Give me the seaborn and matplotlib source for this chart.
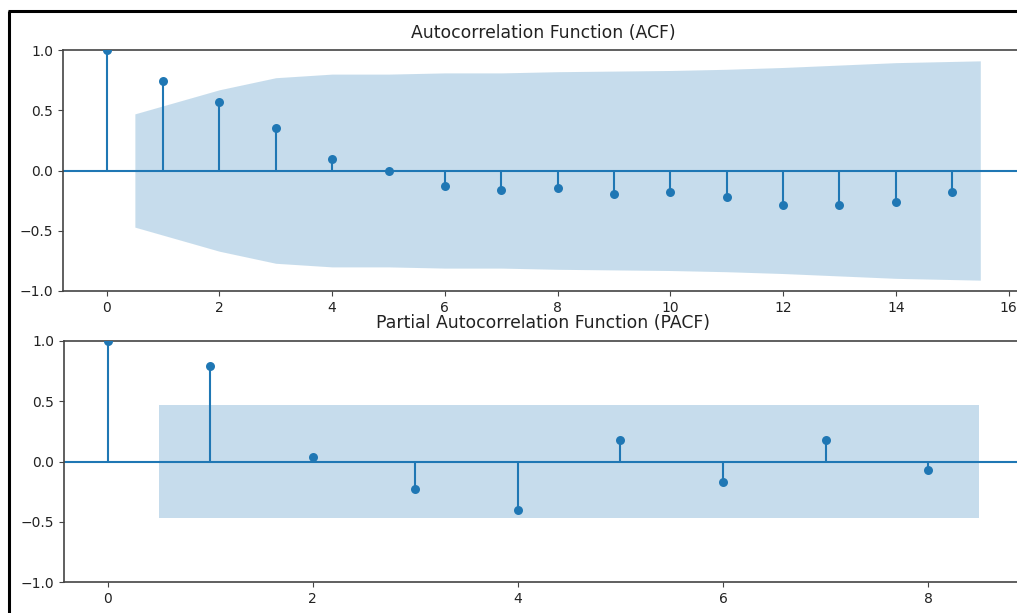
import numpy as np
import pandas as pd
import matplotlib
matplotlib.use("Agg")
import matplotlib.pyplot as plt
import seaborn as sns
from matplotlib.lines import Line2D

# ── Datos ────────────────────────────────────────────────────
acf_lags = list(range(16))
acf_vals = [1.0, 0.74, 0.57, 0.355, 0.095, -0.005, -0.13, -0.158, -0.142,
            -0.197, -0.18, -0.22, -0.29, -0.29, -0.26, -0.18]
# banda de confianza ACF (x del borde y semi-ancho)
acf_band_x = [0.5, 2, 3, 4, 5, 6, 7, 8, 9, 10, 11, 12, 13, 14, 15.5]
acf_band_hi = [0.47, 0.67, 0.77, 0.80, 0.80, 0.81, 0.81, 0.82, 0.825, 0.83,
               0.84, 0.855, 0.875, 0.895, 0.91]

pacf_lags = list(range(9))
pacf_vals = [1.0, 0.79, 0.04, -0.225, -0.40, 0.178, -0.167, 0.178, -0.073]
pacf_band_x = [0.5, 8.5]
pacf_band_hi = [0.47, 0.47]

titulos = ["Autocorrelation Function (ACF)", "Partial Autocorrelation Function (PACF)"]
acf_xticks = list(range(0, 17, 2))
pacf_xticks = list(range(0, 9, 2))
yticks = [-1.0, -0.5, 0.0, 0.5, 1.0]

# ── Configuración general ────────────────────────────────────
sns.set_style("ticks")
plt.rcParams["font.family"] = ["DejaVu Sans"]
plt.rcParams["font.size"] = 10
plt.rcParams["axes.edgecolor"] = "#444444"
plt.rcParams["xtick.color"] = "#444444"
plt.rcParams["ytick.color"] = "#444444"
plt.rcParams["xtick.labelcolor"] = "#222222"
plt.rcParams["ytick.labelcolor"] = "#222222"
plt.rcParams["text.color"] = "#222222"

AZUL = "#1f77b4"
W, H = 1017, 613
fig = plt.figure(figsize=(W / 100, H / 100), dpi=100)

ax1 = fig.add_axes([63 / W, 1 - 291 / H, (1024 - 63) / W, 241 / H])
ax2 = fig.add_axes([64 / W, 1 - 582 / H, (1023 - 64) / W, 241 / H])


def dibujar(ax, lags, vals, bx, bhi, xticks, xlim, titulo):
    df = pd.DataFrame({"lag": lags, "valor": vals})
    ax.fill_between(bx, [-v for v in bhi], bhi, color=AZUL, alpha=0.25,
                    linewidth=0, zorder=1)
    ax.axhline(0, color=AZUL, linewidth=1.5, zorder=2)
    ax.vlines(df["lag"], 0, df["valor"], color=AZUL, linewidth=1.5, zorder=2)
    sns.scatterplot(data=df, x="lag", y="valor", ax=ax, color=AZUL, s=42,
                    edgecolor=AZUL, linewidth=0, zorder=3, legend=False)
    ax.set_xlim(*xlim)
    ax.set_ylim(-1, 1)
    ax.set_xticks(xticks)
    ax.set_yticks(yticks)
    ax.set_xlabel("")
    ax.set_ylabel("")
    ax.set_title(titulo, fontsize=12.4, pad=9)
    ax.spines["right"].set_visible(False)
    for s in ax.spines.values():
        s.set_linewidth(1.2)


dibujar(ax1, acf_lags, acf_vals, acf_band_x, acf_band_hi, acf_xticks,
        (-0.775, 16.275), titulos[0])
dibujar(ax2, pacf_lags, pacf_vals, pacf_band_x, pacf_band_hi, pacf_xticks,
        (-0.425, 8.925), titulos[1])

# borde negro de la captura
fig.add_artist(Line2D([8.5 / W, 8.5 / W], [0, 1 - 11 / H], transform=fig.transFigure,
                      color="black", linewidth=2.2, solid_capstyle="butt"))
fig.add_artist(Line2D([7.5 / W, 1], [1 - 11 / H, 1 - 11 / H], transform=fig.transFigure,
                      color="black", linewidth=2.2, solid_capstyle="butt"))

plt.savefig("out.png", dpi=100)
